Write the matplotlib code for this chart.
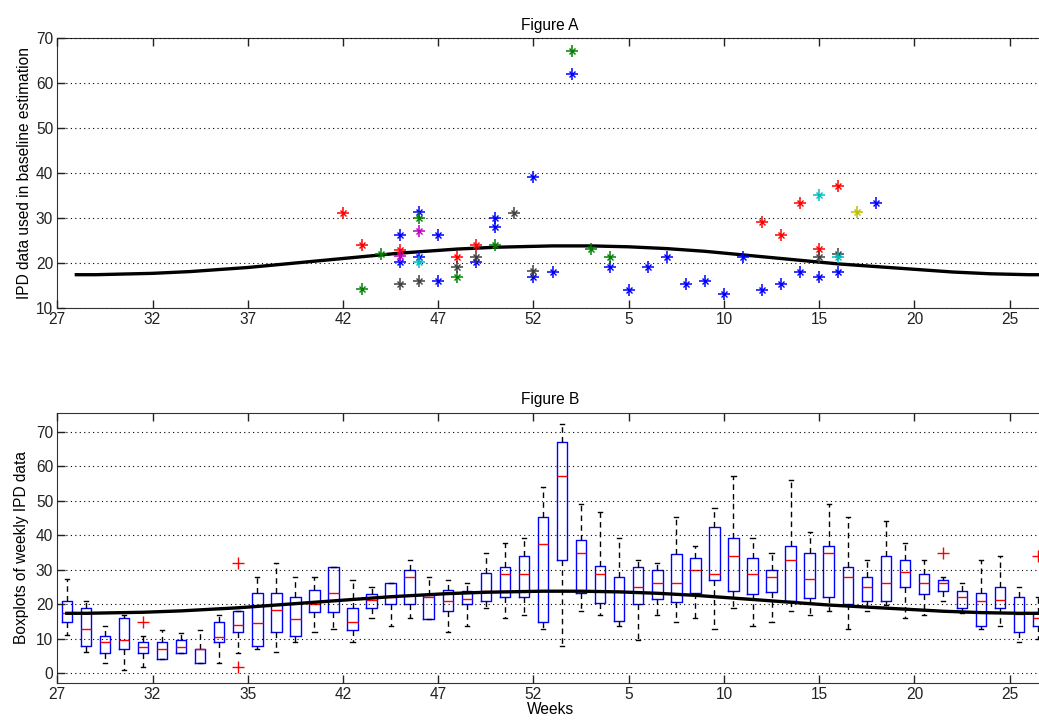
import numpy as np
import matplotlib
matplotlib.use('Agg')
import matplotlib.pyplot as plt

# Etiquetas de semanas (de la semana 27 a la semana 26 del año siguiente)
etiquetas_a = ['27', '32', '37', '42', '47', '52', '5', '10', '15', '20', '25']
etiquetas_b = ['27', '32', '35', '42', '47', '52', '5', '10', '15', '20', '25']

# Línea base estimada (una por semana)
linea_base = [17.4, 17.4, 17.5, 17.6, 17.7, 17.9, 18.1, 18.4, 18.7, 19.0,
              19.4, 19.8, 20.2, 20.6, 21.0, 21.4, 21.8, 22.2, 22.5, 22.8,
              23.1, 23.3, 23.5, 23.6, 23.7, 23.8, 23.8, 23.8, 23.7, 23.6,
              23.4, 23.2, 22.9, 22.6, 22.2, 21.8, 21.4, 21.0, 20.6, 20.2,
              19.8, 19.5, 19.2, 18.9, 18.6, 18.3, 18.0, 17.8, 17.6, 17.5,
              17.4, 17.4]

# Figura A: datos IPD usados en la estimación (semana, valor) por color
puntos_azul = [(18, 26.2), (18, 20.3), (19, 31.3), (19, 21.4), (20, 26.2), (20, 16.1),
               (22, 20.3), (23, 30.1), (23, 28.1), (25, 39.2), (25, 17.0), (26, 18.1),
               (27, 62.1), (29, 19.2), (30, 14.1), (31, 19.2), (32, 21.3), (33, 15.3),
               (34, 16.0), (35, 13.1), (36, 21.3), (37, 14.1), (38, 15.3), (39, 18.1),
               (40, 17.0), (41, 18.1), (43, 33.3)]
puntos_rojo = [(15, 31.2), (16, 24.1), (18, 22.9), (21, 21.4), (22, 24.1),
               (37, 29.2), (38, 26.2), (39, 33.3), (40, 23.1), (41, 37.2)]
puntos_verde = [(16, 14.2), (17, 21.9), (19, 30.1), (21, 17.0), (23, 24.1),
                (27, 67.2), (28, 23.1), (29, 21.3)]
puntos_gris = [(18, 15.3), (19, 16.1), (21, 19.2), (22, 21.4), (24, 31.2),
               (25, 18.2), (40, 21.3), (41, 22.0)]
puntos_magenta = [(18, 21.6), (19, 27.2)]
puntos_cian = [(19, 20.3), (40, 35.1), (41, 21.3)]
puntos_amarillo = [(42, 31.3)]

# Figura B: boxplots semanales
bigote_inf = [11.1, 6.1, 2.9, 1.0, 1.9, 4.1, 6.0, 2.9, 2.9, 6.0,
              7.2, 6.1, 9.2, 11.9, 12.8, 9.2, 15.9, 13.8, 15.9, 15.8,
              11.9, 13.8, 18.8, 15.9, 16.9, 12.8, 8.0, 18.0, 16.9, 13.8,
              9.8, 16.9, 15.0, 15.9, 12.8, 19.0, 13.8, 15.0, 18.0, 16.9,
              18.0, 12.8, 18.2, 19.8, 15.9, 16.9, 21.0, 17.5, 12.8, 13.8,
              9.2, 10.0]
cuartil_1 = [15.0, 8.0, 6.0, 7.0, 6.0, 4.1, 6.0, 2.9, 9.0, 11.9,
             8.0, 11.9, 10.8, 17.9, 17.9, 12.7, 18.8, 20.1, 20.1, 15.8,
             18.0, 20.1, 21.0, 22.0, 22.0, 15.0, 32.8, 23.2, 20.3, 15.2,
             20.1, 21.4, 20.8, 23.4, 27.0, 23.9, 23.0, 23.6, 20.9, 21.9,
             22.0, 20.1, 20.9, 20.9, 25.1, 23.0, 23.9, 18.8, 13.8, 18.8,
             11.9, 13.8]
mediana = [17.5, 12.9, 9.1, 9.8, 7.5, 7.0, 7.5, 7.0, 10.5, 13.9,
           14.5, 18.3, 15.8, 20.1, 23.2, 15.0, 21.2, 22.0, 28.0, 22.0,
           21.0, 21.6, 23.9, 28.7, 28.7, 37.5, 57.2, 35.0, 28.8, 23.9,
           25.1, 26.1, 26.1, 29.9, 28.8, 34.1, 28.8, 28.0, 32.8, 27.2,
           35.0, 28.0, 25.1, 26.1, 29.4, 26.1, 26.1, 22.0, 21.0, 21.2,
           17.1, 16.0]
cuartil_3 = [21.0, 19.0, 10.8, 15.9, 9.0, 9.0, 9.8, 7.0, 15.0, 18.0,
             23.2, 23.2, 22.0, 24.1, 30.9, 19.0, 23.0, 26.1, 29.9, 22.7,
             24.1, 23.9, 29.0, 30.9, 34.0, 45.2, 66.9, 38.6, 31.2, 27.8,
             30.9, 29.9, 34.6, 33.3, 42.5, 39.1, 33.3, 29.9, 37.0, 35.0,
             37.0, 30.9, 27.8, 34.0, 32.8, 28.8, 27.0, 23.9, 23.2, 25.1,
             22.0, 17.6]
bigote_sup = [27.2, 20.9, 13.8, 16.9, 10.8, 12.7, 11.8, 12.7, 16.9, 18.0,
              27.8, 31.9, 27.8, 27.8, 30.9, 27.0, 24.9, 26.1, 32.8, 27.8,
              27.0, 26.1, 35.0, 37.9, 39.1, 53.9, 72.2, 49.0, 46.8, 39.1,
              32.8, 31.9, 45.2, 37.0, 48.0, 57.1, 39.1, 35.0, 56.0, 41.0,
              49.0, 45.2, 32.8, 44.2, 37.9, 32.8, 27.8, 26.1, 32.8, 34.0,
              24.9, 22.1]
# valores atípicos: (índice de caja, valor)
atipicos = [(4, 14.9), (9, 31.9), (9, 1.9), (46, 34.8), (51, 33.9)]

plt.rcParams['font.family'] = ['Liberation Sans', 'DejaVu Sans']
plt.rcParams['font.size'] = 11.2

fig = plt.figure(figsize=(10.39, 7.21), dpi=100)
ax_a = fig.add_axes([57.3 / 1039, 1 - 308 / 721, (1043 - 57.3) / 1039, 270 / 721])
ax_b = fig.add_axes([57.3 / 1039, 1 - 682.7 / 721, (1043 - 57.3) / 1039, 270 / 721])

x_ticks = np.arange(0, 51, 5)
semanas = np.arange(1, len(linea_base) + 1)


def estilo_eje(ax, etiquetas):
    ax.set_xticks(x_ticks)
    ax.set_xticklabels(etiquetas)
    ax.tick_params(direction='in', length=6, width=1, top=True, right=False,
                   colors='#222222', labelcolor='#222222', pad=3)
    ax.grid(axis='y', color='black', linestyle=(0, (1, 3)), linewidth=0.8)
    ax.set_axisbelow(False)
    for lado in ['top', 'bottom', 'left', 'right']:
        ax.spines[lado].set_color('#333333')


# ---------------- Figura A ----------------
ax_a.plot(semanas, linea_base, color='black', linewidth=2.4, zorder=3)
grupos = [(puntos_azul, (0, 0, 1)), (puntos_rojo, (1, 0, 0)), (puntos_verde, (0, 0.5, 0)),
          (puntos_gris, (0.25, 0.25, 0.25)), (puntos_magenta, (0.75, 0, 0.75)),
          (puntos_cian, (0, 0.75, 0.75)), (puntos_amarillo, (0.75, 0.75, 0))]
for puntos, color in grupos:
    xs = [p[0] for p in puntos]
    ys = [p[1] for p in puntos]
    ax_a.plot(xs, ys, linestyle='none', marker='+', markersize=8, mew=1.1, color=color, zorder=4)
    ax_a.plot(xs, ys, linestyle='none', marker='x', markersize=5, mew=1.0, color=color, zorder=4)

ax_a.set_xlim(0, 51.75)
ax_a.set_ylim(10, 70)
ax_a.set_yticks(np.arange(10, 71, 10))
estilo_eje(ax_a, etiquetas_a)
ax_a.set_ylabel('IPD data used in baseline estimation', labelpad=3)
ax_a.set_title('Figure A', fontsize=11.2, pad=6)

# ---------------- Figura B ----------------
stats = []
for i in range(len(mediana)):
    fl = [v for (k, v) in atipicos if k == i]
    stats.append({'whislo': bigote_inf[i], 'q1': cuartil_1[i], 'med': mediana[i],
                  'q3': cuartil_3[i], 'whishi': bigote_sup[i], 'fliers': fl})
posiciones = semanas - 0.5
ax_b.bxp(stats, positions=posiciones, widths=0.55, capwidths=0.22, manage_ticks=False,
         boxprops=dict(color=(0, 0, 1), linewidth=1),
         medianprops=dict(color=(1, 0, 0), linewidth=1),
         whiskerprops=dict(color='black', linestyle=(0, (4, 3)), linewidth=1),
         capprops=dict(color='black', linewidth=1),
         flierprops=dict(marker='+', markeredgecolor=(1, 0, 0), markersize=9, mew=1))
ax_b.plot(posiciones, linea_base, color='black', linewidth=2.4, zorder=3)

ax_b.set_xlim(0, 51.75)
ax_b.set_ylim(-2.7, 75.5)
ax_b.set_yticks(np.arange(0, 71, 10))
estilo_eje(ax_b, etiquetas_b)
ax_b.set_ylabel('Boxplots of weekly IPD data', labelpad=5)
ax_b.set_xlabel('Weeks', labelpad=0)
ax_b.set_title('Figure B', fontsize=11.2, pad=6)

fig.savefig('out.png', dpi=100)
